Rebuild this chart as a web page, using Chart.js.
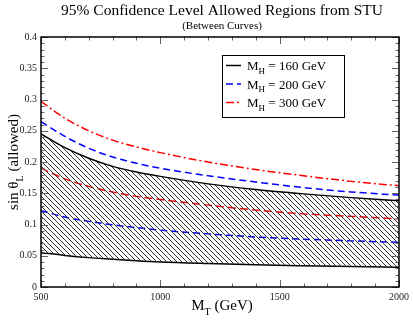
<!DOCTYPE html>
<html>
<head>
<meta charset="utf-8">
<script src="https://cdn.jsdelivr.net/npm/chart.js@4.4.1/dist/chart.umd.min.js"></script>
<style>
  body { margin: 0; background: #fff; }
  #wrap { width: 413px; height: 320px; }
</style>
</head>
<body>
<div id="wrap"><canvas id="stu" width="413" height="320"></canvas></div>
<script>
// top mass (GeV)
const mT = [500, 600, 700, 800, 900, 1000, 1200, 1400, 1600, 1800, 2000];

// allowed band edges, sin(theta_L)
const mh160Upper = [0.245, 0.223, 0.206, 0.193, 0.184, 0.177, 0.165, 0.156, 0.149, 0.143, 0.138];
const mh160Lower = [0.055, 0.0505, 0.047, 0.0445, 0.042, 0.040, 0.0375, 0.0355, 0.034, 0.0327, 0.0315];
const mh200Upper = [0.2645, 0.241, 0.222, 0.208, 0.198, 0.190, 0.178, 0.168, 0.159, 0.152, 0.147];
const mh200Lower = [0.122, 0.112, 0.105, 0.0995, 0.095, 0.091, 0.085, 0.080, 0.0765, 0.0738, 0.0715];
const mh300Upper = [0.297, 0.270, 0.250, 0.235, 0.224, 0.215, 0.200, 0.188, 0.178, 0.169, 0.162];
const mh300Lower = [0.190, 0.173, 0.161, 0.152, 0.145, 0.140, 0.131, 0.123, 0.117, 0.113, 0.109];

// tick marks
const xTickValues = [500, 1000, 1500, 2000];
const xTickLabels = ['500', '1000', '1500', '2000'];
const yTickValues = [0, 0.05, 0.1, 0.15, 0.2, 0.25, 0.3, 0.35, 0.4];
const yTickLabels = ['0', '0.05', '0.1', '0.15', '0.2', '0.25', '0.3', '0.35', '0.4'];

const legendItems = [
  { sub: 'H', rest: ' = 160 GeV', color: '#000', dash: [] },
  { sub: 'H', rest: ' = 200 GeV', color: '#0000ff', dash: [7, 4] },
  { sub: 'H', rest: ' = 300 GeV', color: '#ff0000', dash: [8, 3, 2, 3] }
];

const serif = '"Liberation Serif", "DejaVu Serif", serif';

function pts(ys) {
  return mT.map((m, i) => ({ x: m, y: ys[i] }));
}

// diagonal hatch for the MH=160 band
function makeHatch() {
  const s = 5;
  const c = document.createElement('canvas');
  c.width = s; c.height = s;
  const g = c.getContext('2d');
  g.strokeStyle = '#333';
  g.lineWidth = 1;
  g.beginPath();
  g.moveTo(0, 0); g.lineTo(s, s);
  g.moveTo(-1, s - 1); g.lineTo(1, s + 1);
  g.moveTo(s - 1, -1); g.lineTo(s + 1, 1);
  g.stroke();
  return g.createPattern(c, 'repeat');
}

// text with a subscript: main, sub, rest
function subText(ctx, x, y, main, sub, rest, size) {
  ctx.font = size + 'px ' + serif;
  ctx.fillText(main, x, y);
  x += ctx.measureText(main).width;
  const ss = Math.round(size * 0.68);
  ctx.font = ss + 'px ' + serif;
  ctx.fillText(sub, x, y + size * 0.3);
  x += ctx.measureText(sub).width;
  ctx.font = size + 'px ' + serif;
  ctx.fillText(rest, x, y);
  return x + ctx.measureText(rest).width;
}

function subWidth(ctx, main, sub, rest, size) {
  ctx.font = size + 'px ' + serif;
  let w = ctx.measureText(main).width + ctx.measureText(rest).width;
  ctx.font = Math.round(size * 0.68) + 'px ' + serif;
  return w + ctx.measureText(sub).width;
}

const decorPlugin = {
  id: 'decor',
  afterDatasetsDraw(chart) {
    const ctx = chart.ctx;
    const a = chart.chartArea;
    const xs = chart.scales.x, ys = chart.scales.y;
    ctx.save();

    // inward ticks on all four sides
    ctx.strokeStyle = '#666';
    ctx.lineWidth = 1;
    ctx.beginPath();
    for (let v = 500; v <= 2000; v += 100) {
      const len = v % 500 === 0 ? 7 : 3.5;
      const px = Math.round(xs.getPixelForValue(v)) + 0.5;
      ctx.moveTo(px, a.bottom); ctx.lineTo(px, a.bottom - len);
      ctx.moveTo(px, a.top); ctx.lineTo(px, a.top + len);
    }
    for (let k = 0; k <= 40; k++) {
      const len = k % 5 === 0 ? 7 : 3.5;
      const py = Math.round(ys.getPixelForValue(k / 100)) + 0.5;
      ctx.moveTo(a.left, py); ctx.lineTo(a.left + len, py);
      ctx.moveTo(a.right, py); ctx.lineTo(a.right - len, py);
    }
    ctx.stroke();

    // frame
    ctx.strokeStyle = '#000';
    ctx.lineWidth = 1.5;
    ctx.strokeRect(a.left, a.top, a.right - a.left, a.bottom - a.top);

    ctx.fillStyle = '#000';
    ctx.textBaseline = 'alphabetic';

    // titles
    ctx.textAlign = 'center';
    ctx.font = '15.5px ' + serif;
    ctx.fillText('95% Confidence Level Allowed Regions from STU', 222, 15);
    ctx.font = '11px ' + serif;
    ctx.fillText('(Between Curves)', 222, 29);

    // x axis title
    ctx.textAlign = 'left';
    let w = subWidth(ctx, 'M', 'T', ' (GeV)', 15);
    subText(ctx, 222 - w / 2, 310, 'M', 'T', ' (GeV)', 15);

    // y axis title
    ctx.save();
    ctx.translate(18, 162);
    ctx.rotate(-Math.PI / 2);
    w = subWidth(ctx, 'sin \u03b8', 'L', ' (allowed)', 15);
    subText(ctx, -w / 2, 0, 'sin \u03b8', 'L', ' (allowed)', 15);
    ctx.restore();

    // legend box
    ctx.fillStyle = '#fff';
    ctx.fillRect(222, 55, 122, 62);
    ctx.strokeStyle = '#000';
    ctx.lineWidth = 1;
    ctx.strokeRect(222.5, 55.5, 122, 62);
    legendItems.forEach((it, i) => {
      const ry = 65.5 + i * 18.5;
      ctx.strokeStyle = it.color;
      ctx.lineWidth = 1.5;
      ctx.setLineDash(it.dash);
      ctx.beginPath();
      ctx.moveTo(226, ry); ctx.lineTo(241, ry);
      ctx.stroke();
      ctx.setLineDash([]);
      ctx.fillStyle = '#000';
      subText(ctx, 247, ry + 4.5, 'M', it.sub, it.rest, 13);
    });

    ctx.restore();
  }
};

const hatch = makeHatch();

const ctx = document.getElementById('stu').getContext('2d');
const chart = new Chart(ctx, {
  type: 'line',
  data: {
    datasets: [
      { data: pts(mh160Upper), borderColor: '#000', borderWidth: 1.5, fill: 1, backgroundColor: hatch },
      { data: pts(mh160Lower), borderColor: '#000', borderWidth: 1.5, fill: false },
      { data: pts(mh200Upper), borderColor: '#0000ff', borderWidth: 1.5, borderDash: [7, 4], fill: false },
      { data: pts(mh200Lower), borderColor: '#0000ff', borderWidth: 1.5, borderDash: [7, 4], fill: false },
      { data: pts(mh300Upper), borderColor: '#ff0000', borderWidth: 1.5, borderDash: [8, 3, 2, 3], fill: false },
      { data: pts(mh300Lower), borderColor: '#ff0000', borderWidth: 1.5, borderDash: [8, 4], fill: false }
    ]
  },
  options: {
    responsive: false,
    animation: false,
    events: [],
    layout: { padding: { top: 37, right: 11, left: 0, bottom: 0 } },
    elements: {
      point: { radius: 0 },
      line: { cubicInterpolationMode: 'monotone' }
    },
    plugins: {
      legend: { display: false },
      title: { display: false },
      tooltip: { enabled: false }
    },
    scales: {
      x: {
        type: 'linear',
        min: 500,
        max: 2000,
        grid: { display: false, drawTicks: false },
        border: { display: false },
        afterBuildTicks: s => { s.ticks = xTickValues.map(v => ({ value: v })); },
        afterFit: s => { s.height = 33; },
        ticks: {
          padding: 4,
          maxRotation: 0,
          color: '#222',
          font: { family: serif, size: 10 },
          callback: (v, i) => xTickLabels[i]
        }
      },
      y: {
        min: 0,
        max: 0.4,
        grid: { display: false, drawTicks: false },
        border: { display: false },
        afterBuildTicks: s => { s.ticks = yTickValues.map(v => ({ value: v })); },
        afterFit: s => { s.width = 41; },
        ticks: {
          padding: 4,
          color: '#222',
          font: { family: serif, size: 10 },
          callback: (v, i) => yTickLabels[i]
        }
      }
    }
  },
  plugins: [decorPlugin]
});
</script>
</body>
</html>
